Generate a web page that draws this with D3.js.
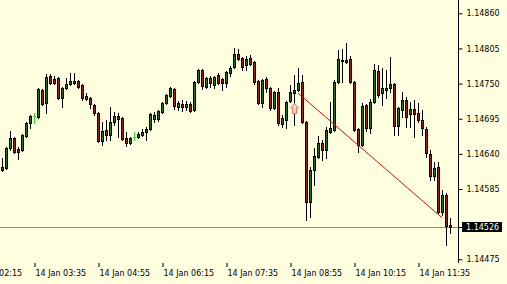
<!DOCTYPE html>
<html>
<head>
<meta charset="utf-8">
<script src="https://cdn.jsdelivr.net/npm/d3@7"></script>
<style>
  html, body { margin: 0; padding: 0; background: #ffffe0; }
  svg { display: block; }
  text { font-family: "DejaVu Sans", sans-serif; font-size: 8px; fill: #000; }
</style>
</head>
<body>
<svg id="chart" width="507" height="284"></svg>
<script>
// EURUSD-style M5 candles, first bar at 14 Jan 02:55
const startTime = "14 Jan 02:55";
const barMinutes = 5;

const open = [
  1.14615, 1.14618, 1.14649, 1.14665, 1.14648, 1.14646, 1.14668, 1.14688, 1.14699, 1.14698,
  1.14740, 1.14720, 1.14762, 1.14757, 1.14759, 1.14728, 1.14743, 1.14750, 1.14751, 1.14754,
  1.14748, 1.14731, 1.14728, 1.14717, 1.14704, 1.14660, 1.14677, 1.14670, 1.14690, 1.14699,
  1.14696, 1.14665, 1.14657, 1.14667, 1.14667, 1.14670, 1.14674, 1.14679, 1.14695, 1.14695,
  1.14706, 1.14720, 1.14731, 1.14742, 1.14714, 1.14718, 1.14714, 1.14718, 1.14709, 1.14753,
  1.14771, 1.14745, 1.14759, 1.14748, 1.14764, 1.14757, 1.14751, 1.14767, 1.14776, 1.14796,
  1.14790, 1.14779, 1.14790, 1.14784, 1.14754, 1.14720, 1.14757, 1.14743, 1.14712, 1.14737,
  1.14687, 1.14693, 1.14723, 1.14735, 1.14740, 1.14753, 1.14690, 1.14565, 1.14615, 1.14635,
  1.14657, 1.14646, 1.14674, 1.14677, 1.14753, 1.14786, 1.14784, 1.14789, 1.14753, 1.14679,
  1.14654, 1.14717, 1.14681, 1.14721, 1.14770, 1.14735, 1.14743, 1.14743, 1.14750, 1.14684,
  1.14709, 1.14725, 1.14703, 1.14710, 1.14704, 1.14693, 1.14679, 1.14640, 1.14606, 1.14620,
  1.14549, 1.14576, 1.14529
];
const high = [
  1.14634, 1.14651, 1.14676, 1.14667, 1.14651, 1.14671, 1.14690, 1.14701, 1.14704, 1.14743,
  1.14742, 1.14765, 1.14765, 1.14762, 1.14760, 1.14745, 1.14759, 1.14767, 1.14767, 1.14756,
  1.14750, 1.14735, 1.14729, 1.14718, 1.14706, 1.14690, 1.14693, 1.14714, 1.14706, 1.14704,
  1.14698, 1.14674, 1.14667, 1.14674, 1.14674, 1.14679, 1.14682, 1.14704, 1.14706, 1.14709,
  1.14721, 1.14734, 1.14745, 1.14743, 1.14723, 1.14725, 1.14723, 1.14721, 1.14754, 1.14773,
  1.14773, 1.14760, 1.14762, 1.14762, 1.14767, 1.14759, 1.14770, 1.14778, 1.14806, 1.14804,
  1.14792, 1.14793, 1.14795, 1.14786, 1.14756, 1.14757, 1.14760, 1.14745, 1.14739, 1.14743,
  1.14701, 1.14723, 1.14748, 1.14764, 1.14775, 1.14764, 1.14692, 1.14620, 1.14649, 1.14668,
  1.14662, 1.14682, 1.14721, 1.14756, 1.14803, 1.14804, 1.14814, 1.14793, 1.14754, 1.14681,
  1.14720, 1.14718, 1.14726, 1.14781, 1.14779, 1.14775, 1.14771, 1.14792, 1.14751, 1.14714,
  1.14737, 1.14729, 1.14721, 1.14725, 1.14720, 1.14709, 1.14682, 1.14646, 1.14628, 1.14628,
  1.14584, 1.14579, 1.14540
];
const low = [
  1.14613, 1.14617, 1.14646, 1.14642, 1.14632, 1.14645, 1.14667, 1.14681, 1.14688, 1.14696,
  1.14717, 1.14704, 1.14750, 1.14750, 1.14726, 1.14714, 1.14742, 1.14748, 1.14750, 1.14743,
  1.14725, 1.14725, 1.14712, 1.14701, 1.14659, 1.14654, 1.14662, 1.14662, 1.14685, 1.14667,
  1.14662, 1.14652, 1.14656, 1.14662, 1.14665, 1.14668, 1.14662, 1.14677, 1.14690, 1.14692,
  1.14704, 1.14718, 1.14729, 1.14710, 1.14709, 1.14707, 1.14709, 1.14706, 1.14707, 1.14751,
  1.14742, 1.14743, 1.14745, 1.14743, 1.14750, 1.14740, 1.14745, 1.14762, 1.14775, 1.14787,
  1.14771, 1.14771, 1.14779, 1.14750, 1.14718, 1.14714, 1.14737, 1.14709, 1.14710, 1.14685,
  1.14682, 1.14681, 1.14721, 1.14685, 1.14739, 1.14688, 1.14537, 1.14541, 1.14591, 1.14634,
  1.14631, 1.14634, 1.14673, 1.14676, 1.14751, 1.14753, 1.14782, 1.14751, 1.14676, 1.14643,
  1.14652, 1.14676, 1.14673, 1.14720, 1.14729, 1.14717, 1.14728, 1.14737, 1.14670, 1.14670,
  1.14698, 1.14682, 1.14682, 1.14667, 1.14690, 1.14670, 1.14635, 1.14599, 1.14599, 1.14548,
  1.14545, 1.14498, 1.14516
];
const close = [
  1.14620, 1.14649, 1.14665, 1.14643, 1.14643, 1.14670, 1.14688, 1.14699, 1.14699, 1.14742,
  1.14718, 1.14760, 1.14751, 1.14751, 1.14728, 1.14743, 1.14750, 1.14754, 1.14754, 1.14745,
  1.14728, 1.14726, 1.14718, 1.14704, 1.14660, 1.14676, 1.14670, 1.14690, 1.14699, 1.14695,
  1.14663, 1.14657, 1.14665, 1.14667, 1.14671, 1.14674, 1.14679, 1.14703, 1.14701, 1.14707,
  1.14720, 1.14732, 1.14743, 1.14715, 1.14720, 1.14714, 1.14718, 1.14707, 1.14753, 1.14771,
  1.14746, 1.14759, 1.14751, 1.14760, 1.14751, 1.14751, 1.14768, 1.14775, 1.14796, 1.14789,
  1.14776, 1.14789, 1.14781, 1.14753, 1.14720, 1.14756, 1.14743, 1.14712, 1.14737, 1.14688,
  1.14696, 1.14721, 1.14737, 1.14740, 1.14751, 1.14690, 1.14565, 1.14615, 1.14637, 1.14657,
  1.14646, 1.14677, 1.14681, 1.14753, 1.14789, 1.14787, 1.14787, 1.14753, 1.14677, 1.14654,
  1.14715, 1.14681, 1.14721, 1.14771, 1.14732, 1.14743, 1.14740, 1.14750, 1.14684, 1.14712,
  1.14725, 1.14698, 1.14710, 1.14703, 1.14693, 1.14681, 1.14642, 1.14606, 1.14618, 1.14549,
  1.14576, 1.14527, 1.14526
];

// 1.14530 sits under the last-price label, so it is left out
const priceTicks = [1.14860, 1.14805, 1.14750, 1.14695, 1.14640, 1.14585, 1.14475];
const timeTicks = ["14 Jan 02:15", "14 Jan 03:35", "14 Jan 04:55", "14 Jan 06:15",
                   "14 Jan 07:35", "14 Jan 08:55", "14 Jan 10:15", "14 Jan 11:35"];
const lastPrice = 1.14526;

// trend line anchors (bar index, price) and the buy arrow
const trendBars = [74, 110];
const trendPrices = [1.14735, 1.14540];
const arrowBar = 73;
const arrowPrice = 1.14720;

const W = 507, H = 284;
const plotRight = 458, plotBottom = 263;
const bullFill = "#2b6a2b", bearFill = "#961e1e", dojiColor = "#33dd33";

const parse = d3.utcParse("%d %b %H:%M");
const t0 = parse(startTime);
const times = open.map((_, i) => d3.utcMinute.offset(t0, i * barMinutes));
const N = times.length;

const x = d3.scaleUtc().domain([times[0], times[N - 1]]).range([2, 450]);
const y = d3.scaleLinear().domain([1.14475, 1.14860]).range([259.3, 13.3]);

const svg = d3.select("#chart");
svg.append("rect").attr("width", W).attr("height", H).attr("fill", "#ffffe0");

// last price line
const ly = Math.round(y(lastPrice)) + 0.5;
svg.append("line")
    .attr("x1", 0).attr("x2", plotRight)
    .attr("y1", ly).attr("y2", ly)
    .attr("stroke", "#8a8a8a").attr("stroke-width", 1);

// candles
const bars = d3.range(N).map(i => ({
  t: times[i], o: open[i], h: high[i], l: low[i], c: close[i]
}));

const candle = svg.append("g").attr("class", "candles")
  .selectAll("g")
  .data(bars)
  .join("g");

candle.append("line")
    .attr("x1", d => Math.round(x(d.t)) + 0.5)
    .attr("x2", d => Math.round(x(d.t)) + 0.5)
    .attr("y1", d => Math.round(y(d.h)))
    .attr("y2", d => Math.round(y(d.l)) + 1)
    .attr("stroke", d => d.o === d.c ? dojiColor : "#000")
    .attr("stroke-width", 1);

candle.filter(d => d.o !== d.c).append("rect")
    .attr("x", d => Math.round(x(d.t)) - 0.5)
    .attr("y", d => Math.round(y(Math.max(d.o, d.c))) + 0.5)
    .attr("width", 2)
    .attr("height", d => Math.max(1, Math.round(y(Math.min(d.o, d.c))) - Math.round(y(Math.max(d.o, d.c)))))
    .attr("fill", d => d.c > d.o ? bullFill : bearFill)
    .attr("stroke", "#000")
    .attr("stroke-width", 1);

candle.filter(d => d.o === d.c).append("line")
    .attr("x1", d => Math.round(x(d.t)) - 1)
    .attr("x2", d => Math.round(x(d.t)) + 2)
    .attr("y1", d => Math.round(y(d.o)) + 0.5)
    .attr("y2", d => Math.round(y(d.o)) + 0.5)
    .attr("stroke", dojiColor);

// trend line
svg.append("line")
    .attr("x1", x(times[trendBars[0]])).attr("y1", y(trendPrices[0]))
    .attr("x2", x(times[trendBars[1]])).attr("y2", y(trendPrices[1]))
    .attr("stroke", "#e01010").attr("stroke-width", 1);

// buy arrow
const ax = Math.round(x(times[arrowBar])) + 0.5, ay = Math.round(y(arrowPrice)) + 0.5;
svg.append("path")
    .attr("transform", `translate(${ax},${ay})`)
    .attr("d", "M0,0L-4,4.5L-2,4.5L-2,10L2,10L2,4.5L4,4.5Z")
    .attr("fill", "#f8d2c4")
    .attr("stroke", "#e87a6a")
    .attr("stroke-width", 1);

// price axis
const yAxis = svg.append("g")
    .attr("transform", `translate(${plotRight + 0.5},0)`)
    .call(d3.axisRight(y).tickValues(priceTicks).tickSize(4).tickPadding(4)
      .tickFormat(d3.format(".5f")));
yAxis.select(".domain").remove();
yAxis.selectAll("text").attr("font-family", null).attr("font-size", null);

svg.append("line")
    .attr("x1", plotRight + 0.5).attr("x2", plotRight + 0.5)
    .attr("y1", 0).attr("y2", plotBottom)
    .attr("stroke", "#000");

// time axis
const xAxis = svg.append("g")
    .attr("transform", `translate(0,${plotBottom})`)
    .call(d3.axisBottom(x).tickValues(timeTicks.map(parse)).tickSize(4).tickPadding(3)
      .tickFormat(d3.utcFormat("%d %b %H:%M")));
xAxis.select(".domain").remove();
xAxis.selectAll(".tick line").attr("transform", "translate(0.5,0)");
xAxis.selectAll("text")
    .attr("font-family", null).attr("font-size", null)
    .attr("text-anchor", "start").attr("x", 1);

// last price label
svg.append("line")
    .attr("x1", plotRight).attr("x2", 462)
    .attr("y1", ly).attr("y2", ly)
    .attr("stroke", "#000");
svg.append("rect")
    .attr("x", 462).attr("y", ly - 5.5)
    .attr("width", 40).attr("height", 10)
    .attr("fill", "#000");
svg.append("text")
    .attr("x", 466).attr("y", ly)
    .attr("dy", "0.32em")
    .style("fill", "#fff")
    .text(d3.format(".5f")(lastPrice));
</script>
</body>
</html>
